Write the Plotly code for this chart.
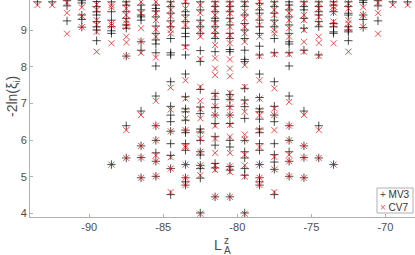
import plotly.graph_objects as go

# L_A^z column positions
columns = [-93.5, -92.5, -91.5, -90.5, -89.5, -88.5, -87.5, -86.5, -85.5, -84.5,
           -83.5, -82.5, -81.5, -80.5, -79.5, -78.5, -77.5, -76.5, -75.5, -74.5,
           -73.5, -72.5, -71.5, -70.5, -69.5, -68.5]

# -2ln(xi_i) values per column, series MV3
mv3_values = [
    [9.77],
    [9.77],
    [9.80, 9.66, 9.25],
    [9.80, 9.74, 9.41, 9.29, 9.08],
    [9.78, 9.64, 9.50, 9.41, 9.23, 9.09, 9.00, 8.71],
    [9.77, 9.50, 9.27, 9.09, 8.98, 8.91, 5.33],
    [9.77, 9.68, 9.50, 9.32, 9.14, 9.05, 8.29, 6.39, 5.51],
    [9.68, 9.55, 9.41, 9.36, 9.27, 8.68, 8.45, 6.79, 5.84, 5.52, 4.97],
    [9.68, 9.59, 9.52, 9.36, 9.11, 8.91, 8.73, 8.62, 8.38, 8.02, 7.20, 6.39, 5.99, 5.65, 5.42, 5.01],
    [9.77, 9.64, 9.46, 9.25, 9.09, 8.77, 8.38, 8.32, 7.59, 6.92, 6.68, 6.50, 6.24, 5.90, 5.58, 5.22, 4.51],
    [9.73, 9.50, 9.41, 9.23, 9.05, 8.91, 8.82, 8.59, 8.32, 7.80, 7.18, 6.85, 6.77, 6.54, 6.27, 6.20, 5.90, 5.72, 5.33, 4.97, 4.86, 4.77],
    [9.77, 9.55, 9.27, 9.09, 8.91, 8.44, 8.14, 7.38, 6.90, 6.72, 6.30, 6.22, 5.99, 5.68, 5.59, 5.31, 5.22, 4.96, 4.01],
    [9.77, 9.64, 9.50, 9.32, 9.25, 9.09, 8.91, 8.77, 8.41, 7.27, 7.11, 6.89, 6.68, 6.45, 6.09, 5.86, 5.36, 5.24, 4.45],
    [9.77, 9.64, 9.50, 9.32, 9.14, 8.91, 8.77, 8.47, 8.41, 7.24, 7.11, 6.92, 6.68, 6.45, 5.99, 5.81, 5.28, 5.18, 4.45],
    [9.77, 9.64, 9.41, 9.18, 9.00, 8.77, 8.45, 8.20, 8.14, 7.41, 7.09, 6.91, 6.59, 5.99, 5.68, 5.51, 5.22, 5.04, 4.01],
    [9.73, 9.55, 9.46, 9.27, 9.09, 8.91, 8.56, 8.32, 7.80, 7.16, 6.85, 6.77, 6.57, 6.30, 6.20, 5.90, 5.72, 5.33, 4.97, 4.86, 4.77],
    [9.77, 9.64, 9.46, 9.27, 9.09, 8.77, 8.38, 7.59, 6.92, 6.68, 6.50, 5.90, 5.60, 5.40, 5.20, 4.51],
    [9.77, 9.68, 9.55, 9.36, 9.14, 8.91, 8.68, 8.62, 8.38, 8.02, 7.20, 6.39, 5.99, 5.68, 5.42, 5.01],
    [9.77, 9.64, 9.55, 9.32, 9.05, 8.45, 6.79, 5.84, 5.52, 4.97],
    [9.77, 9.64, 9.50, 9.41, 9.23, 9.09, 8.32, 6.39, 5.51],
    [9.77, 9.68, 9.50, 9.18, 9.09, 8.95, 8.91, 5.33],
    [9.77, 9.64, 9.46, 9.41, 9.09, 9.00, 8.95, 8.71],
    [9.80, 9.75, 9.41, 9.29, 9.07],
    [9.80, 9.66, 9.25],
    [9.77],
    [9.77],
]

# -2ln(xi_i) values per column, series CV7
cv7_values = [
    [9.68],
    [9.68],
    [9.75, 9.47, 8.90],
    [9.62, 9.38, 9.08],
    [9.70, 9.55, 9.27, 9.14, 8.95, 8.41],
    [9.68, 9.62, 9.18, 9.12, 8.64, 5.33],
    [9.73, 9.59, 9.41, 9.27, 9.18, 9.09, 8.82, 8.66, 8.29, 6.27, 5.51],
    [9.77, 9.46, 9.05, 8.69, 8.38, 6.68, 5.84, 5.52, 4.97],
    [9.77, 9.46, 9.27, 9.02, 8.82, 8.25, 7.07, 6.39, 5.99, 5.58, 5.42, 5.01],
    [9.73, 9.55, 9.38, 9.16, 9.00, 8.91, 7.43, 6.83, 6.24, 5.53, 5.22, 4.58],
    [9.77, 9.59, 9.32, 9.14, 8.53, 7.63, 7.13, 6.81, 6.59, 6.27, 5.84, 5.80, 5.33, 4.97, 4.77],
    [9.68, 9.46, 9.18, 9.00, 8.82, 8.21, 7.45, 7.07, 6.84, 6.59, 6.24, 6.04, 5.68, 5.31, 5.04, 3.99],
    [9.73, 9.59, 9.41, 9.18, 9.00, 8.86, 8.59, 8.23, 7.95, 7.77, 7.24, 6.92, 6.68, 6.39, 6.04, 5.65, 5.31, 5.18, 4.45],
    [9.73, 9.59, 9.46, 9.27, 9.09, 8.86, 8.64, 8.20, 7.95, 7.74, 7.29, 7.13, 6.89, 6.68, 6.41, 6.09, 5.65, 5.28, 5.13, 4.45],
    [9.73, 9.50, 9.32, 9.09, 8.91, 8.68, 8.04, 7.45, 7.04, 6.77, 6.15, 6.01, 5.60, 5.31, 5.00, 3.99],
    [9.77, 9.64, 9.36, 9.14, 8.82, 8.29, 7.63, 7.13, 6.81, 6.68, 6.27, 5.81, 5.33, 4.97, 4.77],
    [9.73, 9.55, 9.41, 9.18, 9.00, 8.91, 8.34, 7.41, 6.86, 6.68, 6.27, 5.54, 5.20, 4.58],
    [9.64, 9.46, 9.27, 9.05, 8.82, 8.34, 7.04, 6.39, 5.99, 5.60, 5.42, 5.01],
    [9.73, 9.41, 9.27, 9.00, 8.68, 8.41, 6.68, 5.84, 5.52, 4.97],
    [9.73, 9.59, 9.36, 9.18, 8.82, 8.65, 8.29, 6.27, 5.51],
    [9.73, 9.64, 9.57, 9.48, 9.23, 9.14, 8.64, 5.33],
    [9.73, 9.59, 9.27, 9.18, 9.05, 8.41],
    [9.62, 9.41, 9.09],
    [9.75, 9.47, 8.90],
    [9.68],
    [9.68],
]

x_ticks = [-90, -85, -80, -75, -70]
y_ticks = [4, 5, 6, 7, 8, 9]
series_names = ["MV3", "CV7"]


def flatten(cols, vals):
    xs, ys = [], []
    for c, v in zip(cols, vals):
        for y in v:
            xs.append(c)
            ys.append(y)
    return xs, ys


mv3_x, mv3_y = flatten(columns, mv3_values)
cv7_x, cv7_y = flatten(columns, cv7_values)

FONT = "Liberation Sans, Arial, sans-serif"
BLACK = "rgba(0,0,0,0.7)"
RED = "rgba(255,0,0,0.7)"
TXT = "#4d4d4d"

fig = go.Figure()
fig.add_trace(go.Scatter(
    x=mv3_x, y=mv3_y, mode="markers", name=series_names[0], showlegend=False,
    marker=dict(symbol="cross-thin-open", size=6, color=BLACK,
                line=dict(color=BLACK, width=1)),
))
fig.add_trace(go.Scatter(
    x=cv7_x, y=cv7_y, mode="markers", name=series_names[1], showlegend=False,
    marker=dict(symbol="x-thin-open", size=6, color=RED,
                line=dict(color=RED, width=1)),
))

axis_common = dict(
    showgrid=False, zeroline=False, showline=True, linecolor="#b0b0b0", linewidth=1,
    ticks="inside", ticklen=3, tickcolor="#b0b0b0",
    tickfont=dict(family=FONT, size=11, color=TXT),
)

W, PL, PB = 385.0, 30.0, 217.0


def px(xp):
    return (xp - PL) / W


def py(yp):
    return (PB - yp) / PB


legend_text = (f'<span style="color:{BLACK}">+</span> {series_names[0]}<br>'
               f'<span style="color:{RED}">×</span> {series_names[1]}')

fig.update_layout(
    width=415, height=255,
    margin=dict(l=30, r=0, t=0, b=38),
    paper_bgcolor="white", plot_bgcolor="white",
    font=dict(family=FONT, size=11, color=TXT),
    xaxis=dict(range=[-94, -68], tickvals=x_ticks, ticktext=[str(t) for t in x_ticks], **axis_common),
    yaxis=dict(range=[3.9, 9.82], tickvals=y_ticks, ticktext=[str(t) for t in y_ticks], **axis_common),
    showlegend=False,
    hovermode=False,
    shapes=[
        dict(type="rect", xref="paper", yref="paper",
             x0=px(377), x1=px(413), y0=py(213), y1=py(188),
             line=dict(color="#b0b0b0", width=1), fillcolor="white", layer="above"),
    ],
    annotations=[
        dict(text="-2ln(ξ<sub>i</sub>)", xref="paper", yref="paper",
             x=px(13), y=py(97), textangle=-90, showarrow=False,
             xanchor="center", yanchor="middle",
             font=dict(family=FONT, size=14, color=TXT)),
        dict(text="L", xref="paper", yref="paper",
             x=px(218), y=py(245), showarrow=False,
             xanchor="center", yanchor="middle",
             font=dict(family=FONT, size=14, color=TXT)),
        dict(text="z", xref="paper", yref="paper",
             x=px(222), y=py(240), showarrow=False,
             xanchor="left", yanchor="middle",
             font=dict(family=FONT, size=10, color=TXT)),
        dict(text="A", xref="paper", yref="paper",
             x=px(221.5), y=py(250.5), showarrow=False,
             xanchor="left", yanchor="middle",
             font=dict(family=FONT, size=10, color=TXT)),
        dict(text=legend_text, xref="paper", yref="paper",
             x=px(378.5), y=py(201), showarrow=False, align="left",
             xanchor="left", yanchor="middle", borderpad=0,
             font=dict(family=FONT, size=10, color="#333333")),
    ],
)

fig.write_html("out.html", config={"displayModeBar": False},
               post_script="document.body.style.margin='0';")
